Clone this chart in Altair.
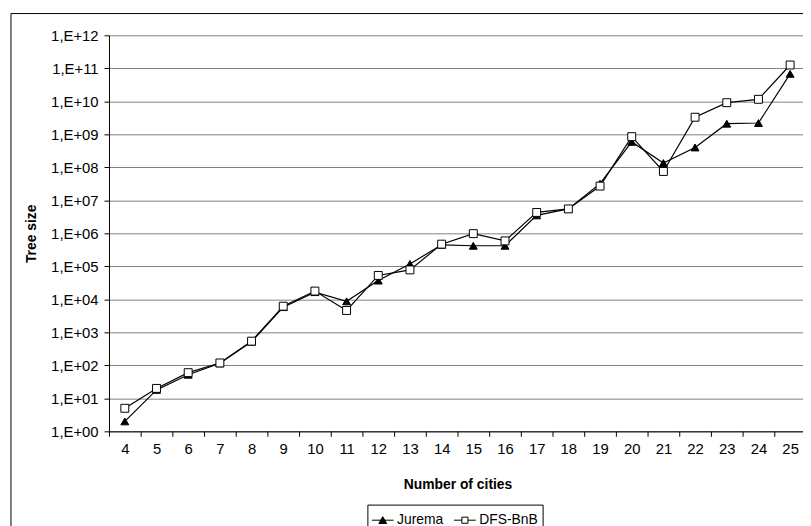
import altair as alt
import pandas as pd

# ---- data ----
cities = [4, 5, 6, 7, 8, 9, 10, 11, 12, 13, 14, 15, 16, 17, 18, 19, 20, 21, 22, 23, 24, 25]
jurema = [2, 18, 52, 115, 520, 5800, 16500, 8700, 37000, 118000, 450000, 420000,
          420000, 3.5e6, 5.5e6, 3.2e7, 5.9e8, 1.35e8, 4.0e8, 2.1e9, 2.2e9, 6.8e10]
dfs_bnb = [5, 20, 60, 118, 540, 6200, 17800, 4600, 53000, 78000, 470000, 980000,
           590000, 4.3e6, 5.5e6, 2.7e7, 8.5e8, 7.5e7, 3.3e9, 9.1e9, 1.15e10, 1.26e11]
series_names = ["Jurema", "DFS-BnB"]
y_tick_values = [1, 10, 100, 1e3, 1e4, 1e5, 1e6, 1e7, 1e8, 1e9, 1e10, 1e11, 1e12]

rows = []
for name, vals in zip(series_names, [jurema, dfs_bnb]):
    for c, v in zip(cities, vals):
        rows.append({"cities": c, "size": v, "series": name})
df = pd.DataFrame(rows)

FONT = "Liberation Sans"

x_enc = alt.X(
    "cities:O",
    title="Number of cities",
    scale=alt.Scale(type="band", paddingInner=0, paddingOuter=0, range=[0, 704]),
    axis=alt.Axis(labelAngle=0, tickBand="extent", tickSize=5, labelPadding=5,
                  grid=False, titleX=352, titleY=54, titleBaseline="middle",
                  titleAlign="center"),
)
y_enc = alt.Y(
    "size:Q",
    title="Tree size",
    scale=alt.Scale(type="log", domain=[1, 1e12], nice=False),
    axis=alt.Axis(
        values=y_tick_values,
        labelExpr="'1,E+' + (round(log(datum.value)/LN10) < 10 ? '0' : '') + round(log(datum.value)/LN10)",
        tickSize=5, labelPadding=6, grid=True, gridColor="#808080", gridWidth=1,
        titleX=-78, titleY=200, titleAngle=270, titleBaseline="middle", titleAlign="center",
    ),
)

frame = alt.Chart(alt.Data(values=[{"k": 0}])).mark_rect(
    fill="transparent", stroke="black", strokeWidth=1
).encode(x=alt.value(-99), x2=alt.value(1000), y=alt.value(-22), y2=alt.value(700))

lines = alt.Chart(df).mark_line(color="black", strokeWidth=1.2).encode(
    x=x_enc, y=y_enc, detail="series:N"
)

points = alt.Chart(df).mark_point(filled=True, stroke="black", strokeWidth=1, size=64, opacity=1).encode(
    x=x_enc, y=y_enc,
    shape=alt.Shape("series:N", scale=alt.Scale(domain=series_names, range=["triangle-up", "square"]), legend=None),
    fill=alt.Fill("series:N", scale=alt.Scale(domain=series_names, range=["black", "white"]), legend=None),
)

path_j = "M-1,0H1M-0.36,0.3L0,-0.32L0.36,0.3Z"
path_d = "M-1,0H-0.28M0.28,0H1M-0.28,-0.28H0.28V0.28H-0.28Z"
leg = alt.Legend(title=None, orient="none", legendX=261, legendY=474, direction="horizontal",
                 strokeColor="black", padding=4, symbolSize=484, symbolStrokeWidth=1,
                 symbolStrokeColor="black", labelFontSize=14, labelFont=FONT, labelColor="black",
                 columnPadding=8, labelOffset=3)
legend_layer = alt.Chart(df).transform_filter("false").mark_point(
    filled=False, strokeWidth=1, opacity=1
).encode(
    x=x_enc, y=y_enc,
    shape=alt.Shape("series:N", scale=alt.Scale(domain=series_names, range=[path_j, path_d]), legend=leg),
    fill=alt.Fill("series:N", scale=alt.Scale(domain=series_names, range=["black", "white"]), legend=leg),
    stroke=alt.Stroke("series:N", scale=alt.Scale(domain=series_names, range=["black", "black"]), legend=leg),
)

chart = alt.layer(frame, lines, points, legend_layer).resolve_scale(
    shape="independent", fill="independent", stroke="independent"
).properties(
    width=701, height=400,
    padding={"left": 102, "top": 25, "right": 0, "bottom": 93},
    autosize="none",
).configure_view(stroke=None).configure_axis(
    labelFont=FONT, titleFont=FONT, labelFontSize=15, titleFontSize=14,
    labelColor="black", titleColor="black", titleFontWeight="bold",
    domainColor="black", tickColor="black", domainWidth=1, tickWidth=1,
)

chart.save("out.html", embed_options={"renderer": "svg", "actions": False})
